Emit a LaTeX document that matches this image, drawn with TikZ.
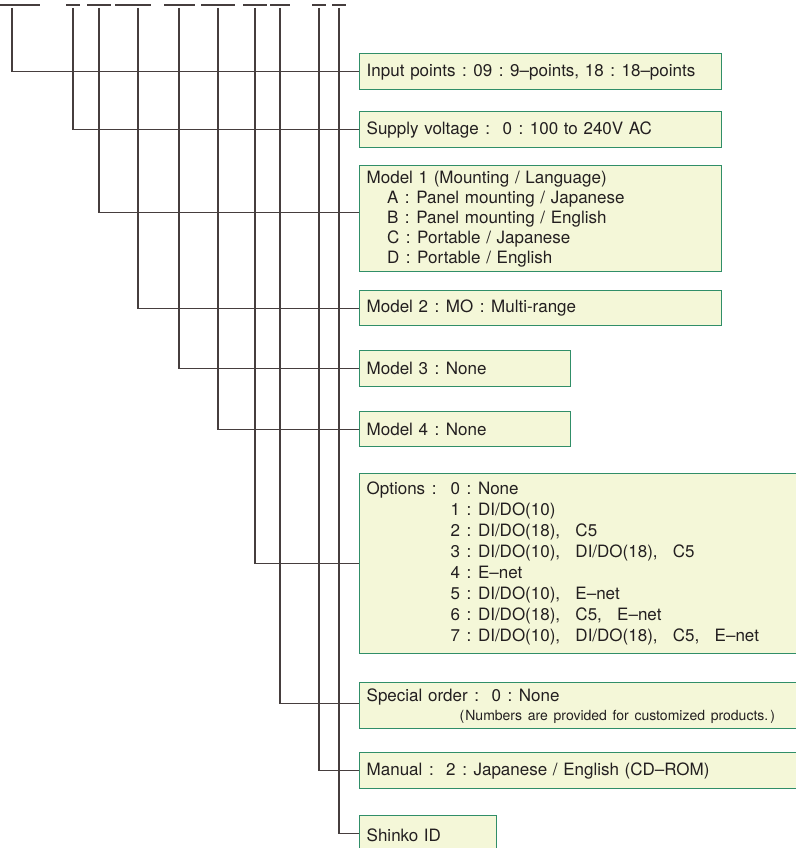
\documentclass[tikz,border=0pt]{standalone}
\usepackage{fontspec}
\setmainfont{TeX Gyre Heros}
\definecolor{boxfill}{RGB}{244,247,216}
\definecolor{boxedge}{RGB}{48,142,104}
\definecolor{wire}{RGB}{70,62,62}
\definecolor{ink}{RGB}{35,31,32}
\newcommand\cc{\makebox[1.05em]{:}}
\newcommand\gap{\hspace{0.9em}}

\begin{document}
\begin{tikzpicture}[x=1pt,y=-1pt]
    \useasboundingbox (0,0) rectangle (795,848);
    \tikzset{box/.style = {draw=boxedge, line width=1.4pt, fill=boxfill, text=ink, anchor=north west,
                           inner xsep=7pt, inner ysep=0pt, align=left, font=\fontsize{17}{20.5}\selectfont},
             wire/.style = {draw=wire, line width=1.3pt}}

    % codice
    \foreach \a/\b in {0/40, 66/80, 87/111, 115/151, 164/195, 201/235, 243/267, 270/290, 312/326, 332/346}
        \draw [wire] (\a,5) -- (\b,5);
    \foreach \n/\x in {1/12, 2/73, 3/99, 4/138, 5/179, 6/218, 7/255, 8/280, 9/319, 10/339}
        \coordinate (t\n) at (\x,8);

    % caselle
    \node [box, text width=348pt, minimum height=36pt] (inp) at (359,53)
        {Input points\cc 09\cc 9–points, 18\cc 18–points};
    \node [box, text width=348pt, minimum height=36pt] (sup) at (359,111)
        {Supply voltage\cc\hspace{0.35em}0\cc 100 to 240V AC};
    \node [box, text width=348pt, minimum height=106pt, font=\fontsize{17}{20}\selectfont] (mod1) at (359,165)
        {Model 1 (Mounting / Language)\\
         \hspace*{1.2em}A\cc Panel mounting / Japanese\\
         \hspace*{1.2em}B\cc Panel mounting / English\\
         \hspace*{1.2em}C\cc Portable / Japanese\\
         \hspace*{1.2em}D\cc Portable / English};
    \node [box, text width=348pt, minimum height=35pt] (mod2) at (359,290)
        {Model 2\cc MO\cc Multi-range};
    \node [box, text width=197pt, minimum height=36pt] (mod3) at (359,350)
        {Model 3\cc None};
    \node [box, text width=197pt, minimum height=35pt] (mod4) at (359,411)
        {Model 4\cc None};
    \node [box, text width=424pt, minimum height=180pt, font=\fontsize{17}{21}\selectfont] (opt) at (359,473)
        {\begin{tabular}{@{}p{84pt}@{}l@{}}
         Options\cc & 0\cc None\\
         & 1\cc DI/DO(10)\\
         & 2\cc DI/DO(18),\gap C5\\
         & 3\cc DI/DO(10),\gap DI/DO(18),\gap C5\\
         & 4\cc E–net\\
         & 5\cc DI/DO(10),\gap E–net\\
         & 6\cc DI/DO(18),\gap C5,\gap E–net\\
         & 7\cc DI/DO(10),\gap DI/DO(18),\gap C5,\gap E–net
         \end{tabular}};
    \node [box, text width=424pt, minimum height=46pt, font=\fontsize{17}{19}\selectfont] (spc) at (359,682)
        {Special order\cc\hspace{0.35em}0\cc None\\
         \hspace*{93pt}{\fontsize{14}{15}\selectfont(\kern1pt Numbers are provided for customized products.\kern2pt)}};
    \node [box, text width=424pt, minimum height=36pt] (man) at (359,752)
        {Manual\cc\hspace{0.35em}2\cc Japanese / English (CD–ROM)};
    \node [box, text width=123pt, minimum height=40pt] (sid) at (359,815)
        {Shinko ID};

    % collegamenti
    \draw [wire] (t1) |- (inp.west);
    \draw [wire] (t2) |- (sup.west);
    \draw [wire] (t3) |- ([yshift=6pt]mod1.west);
    \draw [wire] (t4) |- (mod2.west);
    \draw [wire] (t5) |- (mod3.west);
    \draw [wire] (t6) |- (mod4.west);
    \draw [wire] (t7) |- (opt.west);
    \draw [wire] (t8) |- ([yshift=2pt]spc.west);
    \draw [wire] (t9) |- (man.west);
    \draw [wire] (t10) |- ([yshift=2pt]sid.west);
\end{tikzpicture}
\end{document}
